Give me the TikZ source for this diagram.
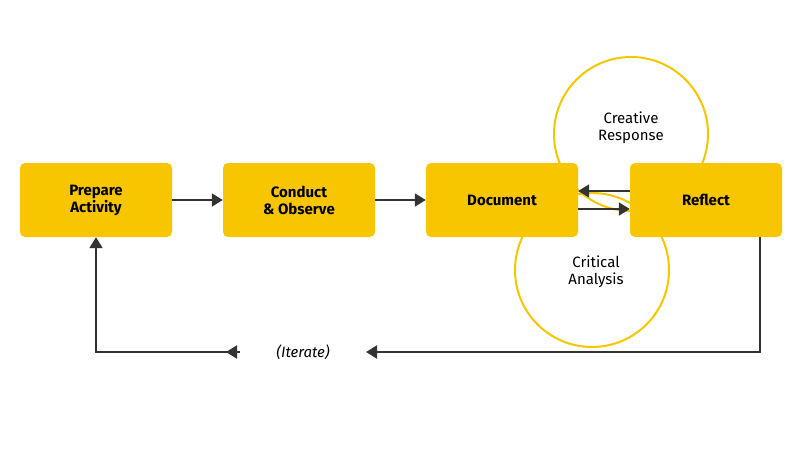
\documentclass[tikz,border=0pt]{standalone}
\usepackage{fontspec}
\setmainfont{Fira Sans}
\usetikzlibrary{arrows.meta,positioning}
\definecolor{boxyellow}{HTML}{F7C600}
\definecolor{linegray}{HTML}{333333}
\tikzset{
  stage/.style={fill=boxyellow, rounded corners=5pt, minimum width=152pt,
    minimum height=74pt, align=center, font=\bfseries\fontsize{15}{17}\selectfont},
  ring/.style={draw=boxyellow, line width=2pt, circle, minimum size=154pt,
    align=center, font=\fontsize{15}{17}\selectfont},
  flow/.style={draw=linegray, line width=2pt, -{Triangle[length=11pt,width=13pt]}}
}
\begin{document}
\begin{tikzpicture}[x=1pt, y=-1pt]
    \useasboundingbox (0,0) rectangle (800,450);

    % rings
    \node[ring] (creative) at (631,134) {};
    \node[font=\fontsize{15}{17}\selectfont, align=center] (creativetext) at (631,128) {Creative\\Response};
    \node[ring] (critical) at (592,270) {};
    \node[font=\fontsize{15}{17}\selectfont, align=center] (criticaltext) at (596,272) {Critical\\Analysis};

    % stages
    \node[stage] (prepare) at (96,200) {Prepare\\Activity};
    \node[stage] (conduct) at (299,200) {Conduct\\\& Observe};
    \node[stage] (document) at (502,200) {Document};
    \node[stage] (reflect) at (706,200) {Reflect};

    % edges
    \draw[flow] (prepare.east) -- (conduct.west);
    \draw[flow] (conduct.east) -- (document.west);
    \draw[flow] ([yshift=-9pt]document.east) -- ([yshift=-9pt]reflect.west);
    \draw[flow] ([yshift=9pt]reflect.west) -- ([yshift=9pt]document.east);

    % loop back
    \coordinate (down) at (760,352);
    \coordinate (left) at (96,352);
    \coordinate (gapright) at (366,352);
    \coordinate (gapleft) at (240,352);
    \coordinate (tipleft) at (226,352);
    \node[font=\itshape\fontsize{15}{17}\selectfont] (iterate) at (303,352) {(Iterate)};
    \draw[flow] (reflect.south -| down) -- (down) -- (gapright);
    \draw[flow] (gapleft) -- (left) -- (prepare.south);
    \draw[flow] (gapleft) -- (tipleft);
\end{tikzpicture}
\end{document}
